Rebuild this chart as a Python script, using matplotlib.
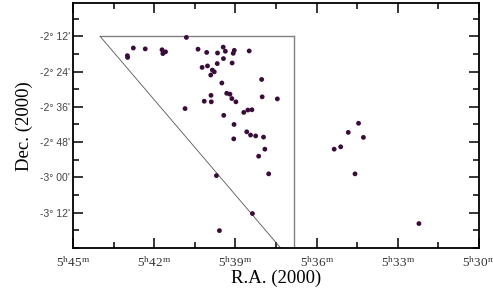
import matplotlib
matplotlib.use("Agg")
import matplotlib.pyplot as plt
from matplotlib.ticker import MultipleLocator, FixedLocator, FuncFormatter

# Right ascension in minutes of time after 5h, declination in arcminutes
ra_min = [40.81, 42.99, 42.98, 42.77, 42.33, 41.71, 41.58, 41.68, 40.38, 40.06,
          39.66, 39.45, 39.37, 39.04, 39.08, 38.49, 39.44, 39.12, 39.67, 40.23,
          40.03, 39.85, 39.78, 39.91, 39.50, 38.03, 39.32, 39.20, 39.13, 38.98,
          40.15, 39.90, 39.89, 38.01, 37.45, 40.86, 39.43, 38.69, 38.54, 38.39,
          39.05, 38.58, 38.44, 38.25, 37.96, 39.06, 37.91, 38.14, 37.77, 39.70,
          38.37, 39.59, 34.45, 34.83, 34.27, 35.11, 35.35, 34.58, 32.22]
dec_arcmin = [-132.4, -138.6, -139.2, -136.0, -136.3, -136.6, -137.3, -137.9, -136.4, -137.5,
              -137.7, -135.7, -137.1, -136.8, -137.8, -137.0, -139.6, -141.1, -141.3, -142.6,
              -142.1, -143.5, -144.1, -145.2, -147.9, -146.7, -151.4, -151.7, -153.2, -154.3,
              -154.1, -152.1, -154.3, -152.6, -153.3, -156.6, -158.9, -157.9, -157.1, -157.0,
              -162.0, -164.5, -165.6, -165.9, -166.3, -166.9, -170.4, -172.8, -178.8, -179.4,
              -192.3, -198.1, -161.6, -164.7, -166.4, -169.6, -170.4, -178.8, -195.7]

# Survey field outline
field_top_ra = [44.0, 36.85]
field_top_dec = [-132.0, -132.0]
field_side_ra = [36.85, 36.85]
field_side_dec = [-132.0, -204.1]
field_diag_ra = [44.0, 37.32]
field_diag_dec = [-132.0, -204.1]

ra_ticks = [45, 42, 39, 36, 33, 30]
dec_ticks = [-132, -144, -156, -168, -180, -192]

plt.rcParams['mathtext.fontset'] = 'custom'
plt.rcParams['mathtext.rm'] = 'Liberation Serif'
plt.rcParams['mathtext.it'] = 'Liberation Serif'

fig = plt.figure(figsize=(4.93, 2.88), dpi=100)
ax = fig.add_axes([0.148, 0.138, 0.8236, 0.8505])

ax.plot(field_top_ra, field_top_dec, color='#808080', lw=1.0)
ax.plot(field_side_ra, field_side_dec, color='#808080', lw=1.0)
ax.plot(field_diag_ra, field_diag_dec, color='#555555', lw=0.6)

ax.scatter(ra_min, dec_arcmin, s=12, color='#3a0c3a', edgecolors='none', zorder=3)

ax.set_xlim(45, 30)
ax.set_ylim(-204.1, -120.8)

ax.xaxis.set_major_locator(FixedLocator(ra_ticks))
ax.xaxis.set_minor_locator(MultipleLocator(1.5))
ax.yaxis.set_major_locator(FixedLocator(dec_ticks))
ax.yaxis.set_minor_locator(MultipleLocator(6))

ax.xaxis.set_major_formatter(FuncFormatter(lambda v, p: r"$5^{\mathrm{h}}%d^{\mathrm{m}}$" % round(v)))

def dec_fmt(v, p):
    a = int(round(-v))
    return "-%d\u00b0 %02d'" % (a // 60, a % 60)

ax.yaxis.set_major_formatter(FuncFormatter(dec_fmt))

ax.tick_params(which='both', direction='in', top=True, right=True, width=1.1, color='black')
ax.tick_params(which='major', length=7)
ax.tick_params(which='minor', length=4)
ax.tick_params(axis='x', which='major', labelsize=9.5, pad=5, labelcolor='#333333')
ax.tick_params(axis='y', which='major', labelsize=7.5, labelcolor='#444444', pad=2)
for lab in ax.get_yticklabels():
    lab.set_fontfamily('Liberation Sans')

for s in ax.spines.values():
    s.set_linewidth(1.3)
    s.set_color('black')

ax.set_xlabel('R.A. (2000)', fontsize=13.5, family='Liberation Serif', labelpad=0)
ax.set_ylabel('Dec. (2000)', fontsize=13.5, family='Liberation Serif', labelpad=5)

fig.savefig('out.png', dpi=100)
